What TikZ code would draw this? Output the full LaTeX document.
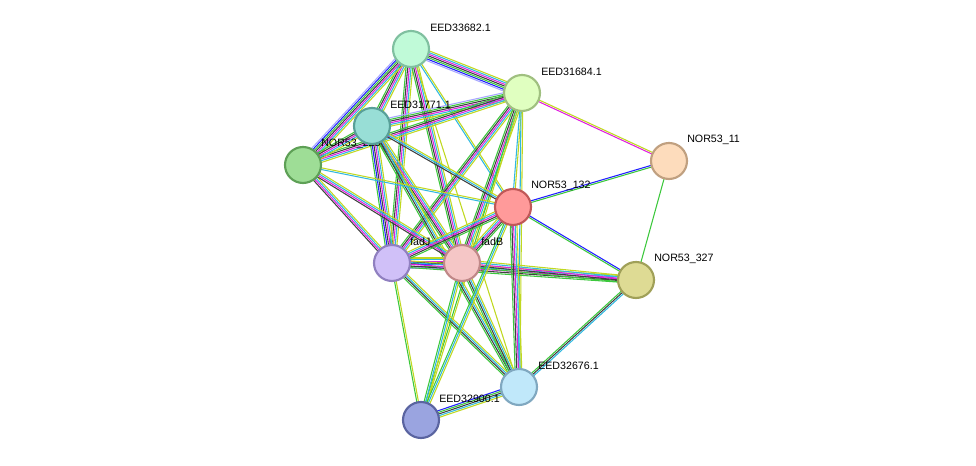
\documentclass[tikz,border=0pt]{standalone}
\usepackage{fontspec}
\setmainfont{Liberation Sans}
\usetikzlibrary{calc}
\definecolor{nbr}{HTML}{3CC83C}
\definecolor{cooc}{HTML}{2020FF}
\definecolor{coex}{HTML}{404040}
\definecolor{expt}{HTML}{E020E0}
\definecolor{dbase}{HTML}{30B8E0}
\definecolor{tmine}{HTML}{C0D820}
\definecolor{homol}{HTML}{A8A8FF}

\tikzset{
  prot/.style={circle, minimum size=27pt, inner sep=0pt, line width=1.6pt},
  lbl/.style={anchor=west, font=\fontsize{8}{9}\selectfont, inner sep=0pt}
}

% parallel coloured lines between two proteins
\newcommand\link[3]{%
  \foreach \c [count=\i] in {#3} {
    \pgfmathsetmacro\off{(\i-(#1+1)/2)*1.25}
    \draw[\c, line width=0.8pt] ($(#2)!\off pt!90:(#2@)$) -- ($(#2@)!\off pt!-90:(#2)$);
  }}
\newcommand\edge[3]{%
  \coordinate (#1@) at (#2);
  \foreach \c [count=\i] in {#3} {\xdef\ncol{\i}}
  \link{\ncol}{#1}{#3}}

\begin{document}
\begin{tikzpicture}[x=0.75pt, y=-0.75pt]
    \useasboundingbox (0,0) rectangle (976,466);

    % proteins
    \coordinate (a) at (411,49);
    \coordinate (b) at (522,93);
    \coordinate (c) at (372,126);
    \coordinate (d) at (303,165);
    \coordinate (e) at (669,161);
    \coordinate (f) at (513,207);
    \coordinate (g) at (392,263);
    \coordinate (h) at (462,263);
    \coordinate (k) at (636,280);
    \coordinate (m) at (519,387);
    \coordinate (n) at (421,420);

    % links
    \edge{a}{b}{homol,cooc,nbr,coex,expt,dbase,tmine}
    \edge{a}{c}{nbr,coex,expt,dbase,tmine}
    \edge{a}{d}{homol,cooc,nbr,coex,expt,dbase,tmine}
    \edge{a}{g}{nbr,coex,expt,dbase,tmine}
    \edge{a}{h}{nbr,coex,expt,dbase,tmine}
    \edge{a}{f}{dbase,tmine}
    \edge{a}{m}{tmine}
    \edge{b}{c}{homol,nbr,coex,expt,dbase,tmine}
    \edge{b}{d}{nbr,coex,expt,dbase,tmine}
    \edge{b}{g}{nbr,coex,expt,dbase,tmine}
    \edge{b}{h}{nbr,coex,expt,dbase,tmine}
    \edge{b}{f}{dbase,tmine}
    \edge{b}{e}{expt,tmine}
    \edge{b}{m}{dbase,tmine}
    \edge{b}{n}{nbr,tmine}
    \edge{c}{d}{nbr,coex,expt,dbase,tmine}
    \edge{c}{g}{nbr,cooc,coex,expt,dbase,tmine}
    \edge{c}{h}{nbr,coex,expt,dbase,tmine}
    \edge{c}{f}{coex,dbase,tmine}
    \edge{c}{m}{nbr,coex,dbase,tmine}
    \edge{d}{g}{coex,expt,dbase,tmine}
    \edge{d}{h}{coex,expt,dbase,tmine}
    \edge{d}{f}{dbase,tmine}
    \edge{g}{h}{homol,nbr,cooc,coex,expt,dbase,tmine}
    \edge{g}{f}{nbr,coex,expt,dbase,tmine}
    \edge{h}{f}{nbr,coex,expt,dbase,tmine}
    \edge{g}{k}{nbr,coex,expt,dbase,tmine}
    \edge{h}{k}{nbr,coex,expt,dbase,tmine}
    \edge{g}{m}{nbr,coex,dbase,tmine}
    \edge{h}{m}{nbr,coex,dbase,tmine}
    \edge{g}{n}{nbr,tmine}
    \edge{h}{n}{nbr,dbase,tmine}
    \edge{f}{e}{nbr,cooc}
    \edge{f}{k}{nbr,cooc}
    \edge{e}{k}{nbr}
    \edge{f}{m}{nbr,coex,expt,dbase,tmine}
    \edge{f}{n}{nbr,dbase,tmine}
    \edge{k}{m}{nbr,coex,dbase}
    \edge{m}{n}{cooc,nbr,coex,dbase,tmine}

    % labels
    \node[lbl] (la) at (430,28) {EED33682.1};
    \node[lbl] (lb) at (541,72) {EED31684.1};
    \node[lbl] (ld) at (321,144) {NOR53\_225};
    \node[lbl] (lc) at (390,105) {EED31771.1};
    \node[lbl] (le) at (687,140) {NOR53\_11};
    \node[lbl] (lf) at (531,186) {NOR53\_132};
    \node[lbl] (lg) at (410,242) {fadJ};
    \node[lbl] (lh) at (481,242) {fadB};
    \node[lbl] (lk) at (654,259) {NOR53\_327};
    \node[lbl] (lm) at (538,366) {EED32676.1};
    \node[lbl] (ln) at (439,399) {EED32900.1};

    % nodes
    \node[prot, fill={rgb,255:red,192;green,250;blue,216}, draw={rgb,255:red,128;green,192;blue,160}] (pa) at (a) {};
    \node[prot, fill={rgb,255:red,224;green,255;blue,192}, draw={rgb,255:red,160;green,192;blue,128}] (pb) at (b) {};
    \node[prot, fill={rgb,255:red,152;green,222;blue,214}, draw={rgb,255:red,88;green,160;blue,152}] (pc) at (c) {};
    \node[prot, fill={rgb,255:red,158;green,221;blue,150}, draw={rgb,255:red,94;green,160;blue,86}] (pd) at (d) {};
    \node[prot, fill={rgb,255:red,253;green,220;blue,188}, draw={rgb,255:red,192;green,160;blue,128}] (pe) at (e) {};
    \node[prot, fill={rgb,255:red,255;green,154;blue,154}, draw={rgb,255:red,192;green,88;blue,88}] (pf) at (f) {};
    \node[prot, fill={rgb,255:red,208;green,192;blue,248}, draw={rgb,255:red,144;green,128;blue,192}] (pg) at (g) {};
    \node[prot, fill={rgb,255:red,245;green,198;blue,198}, draw={rgb,255:red,192;green,136;blue,136}] (ph) at (h) {};
    \node[prot, fill={rgb,255:red,222;green,219;blue,148}, draw={rgb,255:red,160;green,160;blue,88}] (pk) at (k) {};
    \node[prot, fill={rgb,255:red,192;green,232;blue,250}, draw={rgb,255:red,128;green,168;blue,192}] (pm) at (m) {};
    \node[prot, fill={rgb,255:red,154;green,164;blue,224}, draw={rgb,255:red,90;green,100;blue,160}] (pn) at (n) {};
\end{tikzpicture}
\end{document}
